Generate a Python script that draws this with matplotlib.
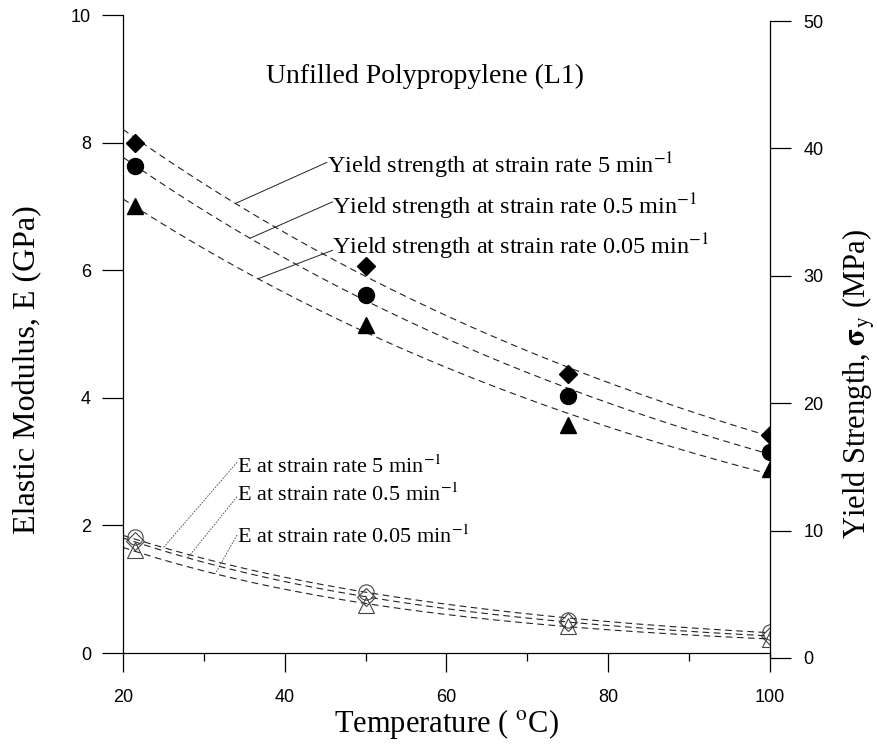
import numpy as np
import matplotlib
matplotlib.use("Agg")
import matplotlib.pyplot as plt

plt.rcParams['mathtext.fontset'] = 'stix'

# ---------------- data ----------------
temps = [21.5, 50, 75, 100]
# yield strength (MPa), right axis
ys_5 = [40.4, 30.8, 22.3, 17.5]
ys_05 = [38.6, 28.5, 20.6, 16.2]
ys_005 = [35.5, 26.1, 18.3, 14.8]
# elastic modulus (GPa), left axis
e_5 = [1.82, 0.95, 0.52, 0.33]
e_05 = [1.75, 0.88, 0.48, 0.27]
e_005 = [1.62, 0.75, 0.42, 0.22]

xticks = [20, 40, 60, 80, 100]
left_ticks = [0, 2, 4, 6, 8, 10]
right_ticks = [0, 10, 20, 30, 40, 50]

title = "Unfilled Polypropylene (L1)"
ys_labels = [r"Yield strength at strain rate 5 min$^{-1}$",
             r"Yield strength at strain rate 0.5 min$^{-1}$",
             r"Yield strength at strain rate 0.05 min$^{-1}$"]
e_labels = [r"E at strain rate 5 min$^{-1}$",
            r"E at strain rate 0.5 min$^{-1}$",
            r"E at strain rate 0.05 min$^{-1}$"]

# ---------------- figure ----------------
W, H = 878, 746
fig = plt.figure(figsize=(W / 100, H / 100), dpi=100)
ax = fig.add_axes([123 / W, 93 / H, 647 / W, 638 / H])
ax2 = fig.add_axes([123 / W, 88 / H, 647 / W, 637 / H])
ax2.patch.set_visible(False)

serif = ['Liberation Serif', 'DejaVu Serif']
sans = ['Liberation Sans', 'DejaVu Sans']

for a in (ax, ax2):
    a.set_xlim(20, 100)
ax.set_ylim(0, 10)
ax2.set_ylim(0, 50)

ax.spines['top'].set_visible(False)
ax.spines['right'].set_visible(False)
for s in ('top', 'left', 'bottom'):
    ax2.spines[s].set_visible(False)
for s in ('left', 'bottom'):
    ax.spines[s].set_linewidth(0.9)
ax2.spines['right'].set_linewidth(0.9)

ax.set_xticks(xticks)
ax.set_xticks([30, 50, 70, 90], minor=True)
ax.set_yticks(left_ticks)
ax.tick_params(axis='x', which='major', direction='out', length=14, width=0.9, pad=12,
               labelsize=13)
ax.tick_params(axis='x', which='minor', direction='out', length=6, width=0.9)
ax.tick_params(axis='y', which='major', direction='out', length=15, width=0.9, pad=8,
               labelsize=13)
ax2.set_xticks([])
ax2.yaxis.tick_right()
ax2.yaxis.set_label_position('right')
ax2.set_yticks(right_ticks)
ax2.tick_params(axis='y', which='major', direction='out', length=15, width=0.9, pad=9,
                labelsize=13)
for lab in ax.get_xticklabels() + ax.get_yticklabels() + ax2.get_yticklabels():
    lab.set_fontfamily(sans)

xx = np.linspace(20, 100, 200)

def expfit(x, y):
    p = np.polyfit(np.asarray(x, float), np.log(np.asarray(y, float)), 1)
    return lambda t: np.exp(np.polyval(p, t))

dash = dict(ls=(0, (6, 4)), lw=0.8, color='#222222')

# yield strength (right axis)
ys_sets = [(ys_5, 'D', 9.5), (ys_05, 'o', 11.5), (ys_005, '^', 11.5)]
ys_fits = []
for vals, m, ms in ys_sets:
    f = expfit(temps, vals)
    ys_fits.append(f)
    ax2.plot(xx, f(xx), **dash)
    ax2.plot(temps, vals, ls='none', marker=m, ms=ms, color='black')

# elastic modulus (left axis)
e_sets = [(e_5, 'o', 11), (e_05, 'D', 9), (e_005, '^', 11)]
e_fits = []
for vals, m, ms in e_sets:
    f = expfit(temps, vals)
    e_fits.append(f)
    ax.plot(xx, f(xx), **dash)
    ax.plot(temps, vals, ls='none', marker=m, ms=ms, mfc='none', mec='#444444', mew=0.8)

# annotations for yield strength
ys_text_pos = [(45.2, 38.6), (45.8, 35.4), (45.8, 32.3)]
ys_line_start = [(45.2, 38.9), (45.9, 35.8), (45.9, 32.0)]
ys_line_x = [33.9, 35.7, 36.7]
for lab, tp, ls_, lx, f in zip(ys_labels, ys_text_pos, ys_line_start, ys_line_x, ys_fits):
    ax2.plot([ls_[0], lx], [ls_[1], f(lx)], color='#222222', lw=0.7)
    ax2.text(tp[0], tp[1], lab, ha='left', va='center', fontsize=17.5, family=serif)

# annotations for E
e_text_pos = [(34.1, 2.92), (34.1, 2.48), (34.1, 1.82)]
e_line_start = [(34.1, 2.99), (34.1, 2.45), (34.1, 1.85)]
e_line_x = [25.0, 28.0, 31.4]
for lab, tp, ls_, lx, f in zip(e_labels, e_text_pos, e_line_start, e_line_x, e_fits):
    ax.plot([ls_[0], lx], [ls_[1], f(lx)], color='#444444', lw=0.6, ls=(0, (2, 1.5)))
    ax.text(tp[0], tp[1], lab, ha='left', va='center', fontsize=16, family=serif)

ax.text(57.4, 9.03, title, ha='center', va='center', fontsize=20, family=serif)

ax.set_xlabel(r"Temperature ( $^{\mathrm{o}}$C)", fontsize=22, family=serif)
ax.xaxis.set_label_coords(0.5, -0.085)
ax.set_ylabel("Elastic Modulus, E (GPa)", fontsize=23, family=serif)
ax.yaxis.set_label_coords(-0.125, 0.444)
ax2.set_ylabel(r"Yield Strength, $\mathbf{\sigma}_{\mathrm{y}}$ (MPa)", fontsize=22,
               family=serif)
ax2.yaxis.set_label_coords(1.11, 0.43)

fig.savefig("out.png", dpi=100)
